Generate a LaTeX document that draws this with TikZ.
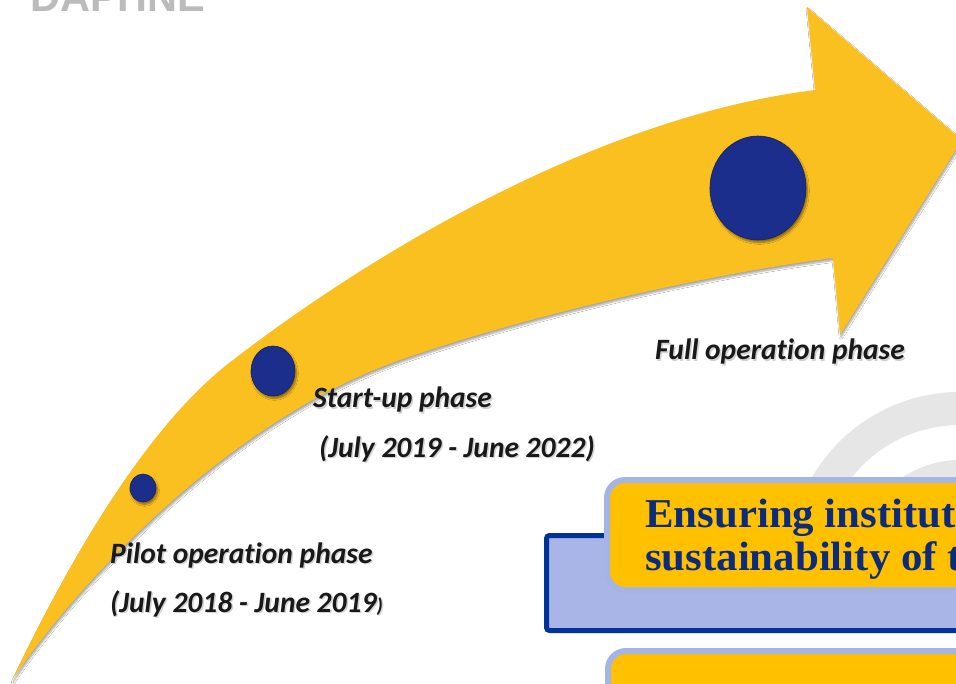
\documentclass[tikz,border=0pt]{standalone}
\usepackage{fontspec}
\setmainfont{Liberation Serif}
\newfontfamily\calibrifont[RawFeature={-liga}]{Carlito}
\newfontfamily\arialfont{Liberation Sans}
\usetikzlibrary{shapes.geometric,shadows.blur}
\definecolor{arrowyellow}{RGB}{250,192,32}
\definecolor{boxyellow}{RGB}{255,192,0}
\definecolor{boxedge}{RGB}{164,180,228}
\definecolor{bandblue}{RGB}{169,181,230}
\definecolor{bandedge}{RGB}{0,51,153}
\definecolor{dotblue}{RGB}{27,46,140}
\definecolor{navytext}{RGB}{12,43,122}
\definecolor{ringgray}{RGB}{230,230,230}
\definecolor{logogray}{RGB}{187,187,187}
\begin{document}
\begin{tikzpicture}[x=1pt,y=-1pt,
  phase/.style={font=\calibrifont\bfseries\itshape\fontsize{29.5}{30}\selectfont, anchor=base west, inner sep=0pt, text=black!90},
  phaseshadow/.style={phase, text=black!35, opacity=0.5},
  dot/.style={ellipse, fill=dotblue, draw=dotblue!75!black, line width=0.6pt, inner sep=0pt,
    blur shadow={shadow xshift=1.5pt, shadow yshift=-2.5pt, shadow blur steps=6, shadow opacity=45}},
  ring/.style={draw=ringgray},
  boxtext/.style={font=\bfseries\fontsize{41}{43}\selectfont, text=navytext, anchor=base west, inner sep=0pt},
  yellowbox/.style={line width=6pt, draw=boxedge, fill=boxyellow, rounded corners=18pt},
  bluebox/.style={line width=5pt, draw=bandedge, fill=bandblue, rounded corners=3pt}
]
\useasboundingbox (0,0) rectangle (956,684);
\clip (0,0) rectangle (956,684);
\fill[white] (0,0) rectangle (956,684);

% logo text (cropped at top)
\node[anchor=base west, inner sep=0pt, font=\arialfont\bfseries\fontsize{41.5}{41.5}\selectfont, text=logogray] (logo) at (30,12) {DAPHNE};

% grey rings
\draw[ring, line width=33pt] (960,563) ++(-55:154.5) arc[start angle=-55, end angle=-185, radius=154.5];
\draw[ring, line width=30pt] (960,563) ++(-55:88) arc[start angle=-55, end angle=-185, radius=88];

% big curved arrow
\path[fill=arrowyellow, blur shadow={shadow xshift=1pt, shadow yshift=-2.5pt, shadow blur steps=6, shadow opacity=35}]
  (12,680) .. controls (60,580) and (140,430) .. (233,360)
  .. controls (360,262) and (590,118) .. (815,90)
  -- (807,7) -- (962,140) -- (840,335) -- (833,258)
  .. controls (700,275) and (520,318) .. (400,360)
  .. controls (230,420) and (80,580) .. (12,680) -- cycle;

% milestone dots
\node[dot, minimum width=26pt, minimum height=28pt] (pilotdot) at (143,488) {};
\node[dot, minimum width=44pt, minimum height=50pt] (startdot) at (273,371) {};
\node[dot, minimum width=96pt, minimum height=104pt] (fulldot) at (758,188) {};

% phase labels
\node[phaseshadow] (pilotsh) at (111.5,564.5) {Pilot operation phase};
\node[phase] (pilot) at (110,563) {Pilot operation phase};
\node[phaseshadow] (pilotdatesh) at (111.5,613.5) {(July 2018 - June 2019{\fontsize{20}{20}\selectfont)}};
\node[phase] (pilotdate) at (110,612) {(July 2018 - June 2019{\fontsize{20}{20}\selectfont)}};

\node[phaseshadow] (startsh) at (314.5,409.5) {Start-up phase};
\node[phase] (start) at (313,408) {Start-up phase};
\node[phaseshadow] (startdatesh) at (320.5,458.5) {(July 2019 - June 2022)};
\node[phase] (startdate) at (319,457) {(July 2019 - June 2022)};

\node[phaseshadow] (fullsh) at (656.5,361.5) {Full operation phase};
\node[phase] (full) at (655,360) {Full operation phase};

% boxes
\draw[bluebox] (546.5,535.5) rectangle (1000,630.5);
\draw[yellowbox] (607,480) rectangle (1000,590);
\node[boxtext] (ensure1) at (645,527) {\scalebox{1.045}[1]{Ensuring institutional}};
\node[boxtext] (ensure2) at (645,570) {\scalebox{1.045}[1]{sustainability of the}};
\draw[yellowbox] (608,651) rectangle (1000,730);
\end{tikzpicture}
\end{document}
